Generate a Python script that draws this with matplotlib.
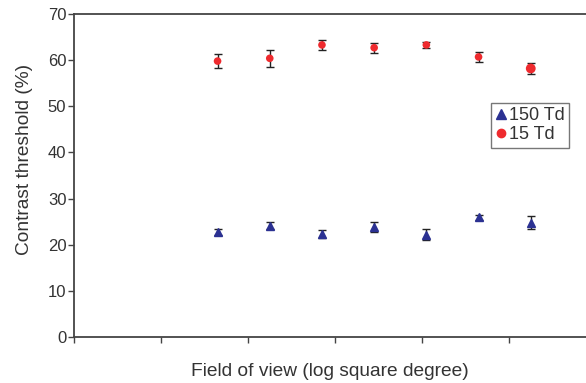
import matplotlib
matplotlib.use("Agg")
import matplotlib.pyplot as plt
from matplotlib.lines import Line2D

# Field of view positions (log square degree) and thresholds
field_of_view = [1.65, 2.25, 2.85, 3.45, 4.05, 4.65, 5.25]

td150_mean = [22.8, 24.1, 22.3, 23.9, 22.2, 25.9, 24.8]
td150_err = [0.6, 0.8, 0.8, 1.1, 1.1, 0.6, 1.4]

td15_mean = [59.8, 60.4, 63.3, 62.7, 63.3, 60.7, 58.2]
td15_err = [1.5, 1.8, 1.0, 1.1, 0.7, 1.0, 1.2]

y_ticks = [0, 10, 20, 30, 40, 50, 60, 70]
x_ticks = [0, 1, 2, 3, 4, 5]

plt.rcParams["font.family"] = ["Liberation Sans", "DejaVu Sans"]
text_color = "#333333"
axis_color = "#444444"
blue = "#2b3192"
red = "#ee2a2e"

fig = plt.figure(figsize=(5.86, 3.83), dpi=100)
ax = fig.add_axes([0.1263, 0.1201, 0.8737, 0.8433])

ax.errorbar(field_of_view, td150_mean, yerr=td150_err, fmt="^", color=blue,
            markersize=5.5, ecolor="#222222", elinewidth=1.0, capsize=3,
            capthick=1.0, zorder=3)
ax.errorbar(field_of_view, td15_mean, yerr=td15_err, fmt="none",
            ecolor="#222222", elinewidth=1.0, capsize=3, capthick=1.0, zorder=3)
ax.scatter(field_of_view, td15_mean, s=[30, 30, 30, 30, 30, 30, 50],
           color=red, linewidths=0, zorder=4)

ax.set_xlim(0, 5.885)
ax.set_ylim(0, 70)
ax.set_yticks(y_ticks)
ax.set_xticks(x_ticks)
ax.set_xticklabels([])

for side in ("left", "bottom", "top"):
    ax.spines[side].set_color(axis_color)
    ax.spines[side].set_linewidth(1.3)
ax.spines["right"].set_visible(False)

ax.tick_params(axis="both", direction="out", length=4, width=1.0,
               color=axis_color, labelcolor=text_color, labelsize=12)
ax.tick_params(axis="y", pad=1.5)

ax.set_xlabel("Field of view (log square degree)", fontsize=13.8,
              color=text_color, labelpad=11)
ax.set_ylabel("Contrast threshold (%)", fontsize=13.8, color=text_color)
ax.yaxis.set_label_coords(-0.08, 0.551)

handles = [
    Line2D([], [], marker="^", linestyle="none", color=blue, markersize=7),
    Line2D([], [], marker="o", linestyle="none", color=red, markersize=6),
]
leg = ax.legend(handles, ["150 Td", "15 Td"], loc="upper left",
                bbox_to_anchor=(0.814, 0.725), frameon=True, fancybox=False,
                edgecolor="#555555", fontsize=13, handlelength=0.6,
                handletextpad=0.15, borderpad=0.25, labelspacing=0.1,
                borderaxespad=0)
for t in leg.get_texts():
    t.set_color(text_color)
leg.get_frame().set_linewidth(1.0)

fig.savefig("out.png", dpi=100)
